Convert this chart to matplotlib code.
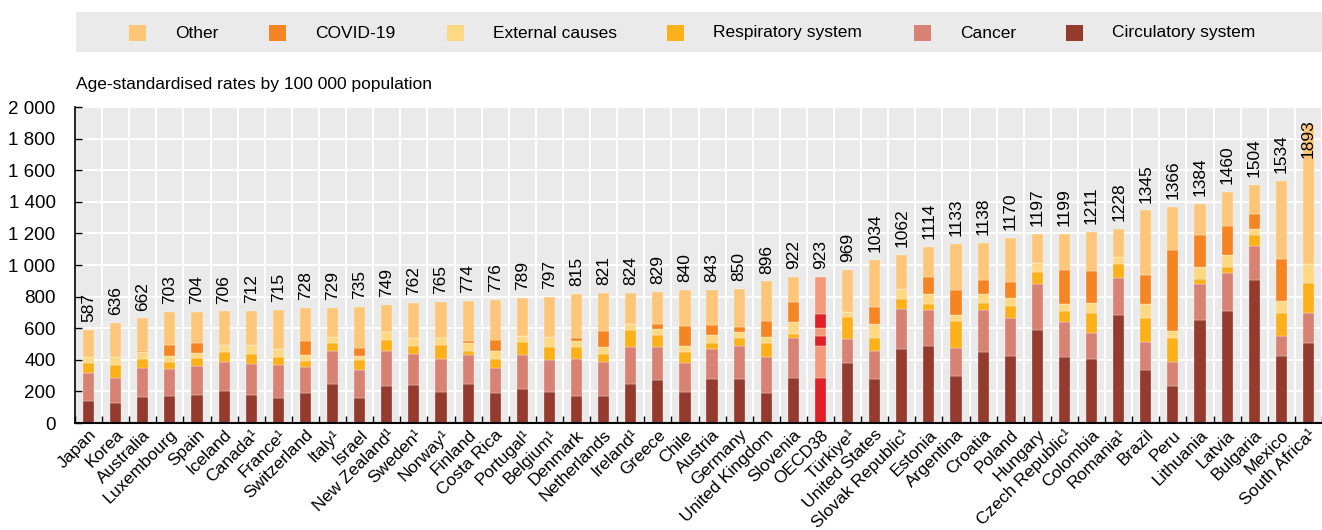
import numpy as np
import matplotlib
matplotlib.use('Agg')
import matplotlib.pyplot as plt
from matplotlib.patches import Rectangle

plt.rcParams['font.family'] = ['Liberation Sans', 'DejaVu Sans']

# Data (age-standardised rates by 100 000 population)
countries = ['Japan', 'Korea', 'Australia', 'Luxembourg', 'Spain', 'Iceland', 'Canada¹',
             'France¹', 'Switzerland', 'Italy¹', 'Israel', 'New Zealand¹', 'Sweden¹',
             'Norway¹', 'Finland', 'Costa Rica', 'Portugal¹', 'Belgium¹', 'Denmark',
             'Netherlands', 'Ireland¹', 'Greece', 'Chile', 'Austria', 'Germany',
             'United Kingdom', 'Slovenia', 'OECD38', 'Türkiye¹', 'United States',
             'Slovak Republic¹', 'Estonia', 'Argentina', 'Croatia', 'Poland', 'Hungary',
             'Czech Republic¹', 'Colombia', 'Romania¹', 'Brazil', 'Peru', 'Lithuania',
             'Latvia', 'Bulgaria', 'Mexico', 'South Africa¹']
circulatory = [141, 128, 162, 168, 179, 204, 175, 160, 189, 248, 156, 234, 240, 198, 248,
               192, 217, 198, 168, 168, 244, 274, 198, 278, 278, 189, 284, 284, 381, 278,
               469, 488, 299, 451, 425, 589, 419, 406, 686, 335, 234, 652, 707, 905, 426, 506]
cancer = [175, 158, 187, 171, 181, 185, 200, 210, 167, 205, 179, 223, 194, 210, 184,
          157, 215, 198, 234, 219, 234, 210, 179, 191, 208, 228, 253, 202, 152, 179,
          253, 228, 177, 265, 242, 291, 221, 165, 234, 180, 154, 226, 244, 217, 127, 190]
respiratory = [65, 80, 55, 46, 51, 59, 63, 48, 38, 54, 63, 67, 54, 83, 23,
               57, 82, 86, 82, 51, 109, 72, 74, 36, 51, 88, 25, 63, 139, 82,
               63, 36, 168, 42, 72, 74, 67, 126, 86, 152, 150, 33, 36, 70, 145, 188]
external = [36, 49, 44, 38, 31, 45, 55, 53, 35, 36, 25, 51, 51, 50, 54,
            51, 38, 65, 36, 44, 38, 38, 37, 49, 40, 38, 76, 51, 29, 90,
            61, 65, 38, 59, 50, 57, 47, 61, 47, 86, 42, 74, 76, 34, 74, 122]
covid = [0, 0, 5, 72, 65, 0, 0, 0, 89, 0, 51, 0, 0, 0, 9,
         67, 0, 0, 17, 99, 0, 31, 127, 69, 31, 103, 128, 88, 0, 104,
         0, 107, 162, 88, 102, 0, 214, 204, 0, 184, 515, 205, 184, 97, 268, 0]
other = [170, 221, 209, 208, 197, 213, 219, 244, 210, 186, 261, 174, 223, 224, 256,
         252, 237, 250, 278, 240, 199, 204, 225, 220, 242, 250, 156, 235, 268, 301,
         216, 190, 289, 233, 279, 186, 231, 249, 175, 408, 271, 194, 213, 181, 494, 887]
totals = [587, 636, 662, 703, 704, 706, 712, 715, 728, 729, 735, 749, 762, 765, 774,
          776, 789, 797, 815, 821, 824, 829, 840, 843, 850, 896, 922, 923, 969, 1034,
          1062, 1114, 1133, 1138, 1170, 1197, 1199, 1211, 1228, 1345, 1366, 1384, 1460,
          1504, 1534, 1893]

series = [('Circulatory system', circulatory, '#943B2E', '#E11F26'),
          ('Cancer', cancer, '#D78272', '#F5997B'),
          ('Respiratory system', respiratory, '#FCB11A', '#E11F26'),
          ('External causes', external, '#FFD884', '#F5997B'),
          ('COVID-19', covid, '#F58523', '#E11F26'),
          ('Other', other, '#FEC679', '#F5997B')]

fig = plt.figure(figsize=(13.22, 5.30), dpi=100)
ax = fig.add_axes([75 / 1322, 1 - 423 / 530, 1 - 75 / 1322, 316 / 530])
ax.set_facecolor('#EAEAEA')

x = np.arange(len(countries))
oecd = countries.index('OECD38')
bottom = np.zeros(len(countries))
for name, vals, col, col_oecd in series:
    vals = np.array(vals, dtype=float)
    colors = [col_oecd if i == oecd else col for i in range(len(countries))]
    ax.bar(x, vals, width=0.41, bottom=bottom, color=colors, zorder=3,
           edgecolor='white', linewidth=0.2)
    bottom += vals

# Value labels above the bars
for i, t in enumerate(totals):
    ax.text(i, min(t + 50, 1680), str(t), rotation=90, ha='center', va='bottom',
            fontsize=12.5, zorder=4)

ax.set_xlim(-0.5, 45.34)
ax.set_ylim(0, 2000)
ax.set_yticks(np.arange(0, 2001, 200))
ax.set_yticklabels([f'{v:,}'.replace(',', ' ') for v in range(0, 2001, 200)], fontsize=13.5)
ax.set_xticks(x)
ax.set_xticklabels(countries, rotation=45, ha='right', rotation_mode='anchor', fontsize=12.5)
ax.set_xticks(np.arange(-0.5, len(countries), 1), minor=True)
ax.tick_params(axis='x', which='major', length=0, pad=3)
ax.tick_params(axis='x', which='minor', direction='in', length=5, width=1)
ax.tick_params(axis='y', direction='in', length=5, width=1, pad=14)

ax.grid(True, axis='y', color='white', linewidth=1.5, zorder=1)
ax.grid(True, axis='x', which='minor', color='white', linewidth=1.5, zorder=1)
for s in ['top', 'right']:
    ax.spines[s].set_visible(False)
ax.spines['left'].set_linewidth(1.2)
ax.spines['bottom'].set_linewidth(1.5)
ax.spines['bottom'].set_zorder(5)

fig.text(76 / 1322, 1 - 84 / 530, 'Age-standardised rates by 100 000 population',
         fontsize=12.5, va='center', ha='left')

# Legend box across the top
fig.patches.append(Rectangle((76 / 1322, 1 - 52 / 530), 1 - 76 / 1322, 40 / 530,
                             transform=fig.transFigure, facecolor='#EAEAEA',
                             edgecolor='none', zorder=0))
legend_items = [('Other', '#FEC679', 175), ('COVID-19', '#F58523', 315),
                ('External causes', '#FFD884', 493), ('Respiratory system', '#FCB11A', 713),
                ('Cancer', '#D78272', 960), ('Circulatory system', '#943B2E', 1112)]
for label, col, tx in legend_items:
    fig.patches.append(Rectangle(((tx - 46) / 1322, 1 - 41 / 530), 17 / 1322, 16 / 530,
                                 transform=fig.transFigure, facecolor=col,
                                 edgecolor='none', zorder=1))
    fig.text(tx / 1322, 1 - 33 / 530, label, fontsize=12.5, va='center', ha='left')

fig.savefig('out.png', dpi=100)
